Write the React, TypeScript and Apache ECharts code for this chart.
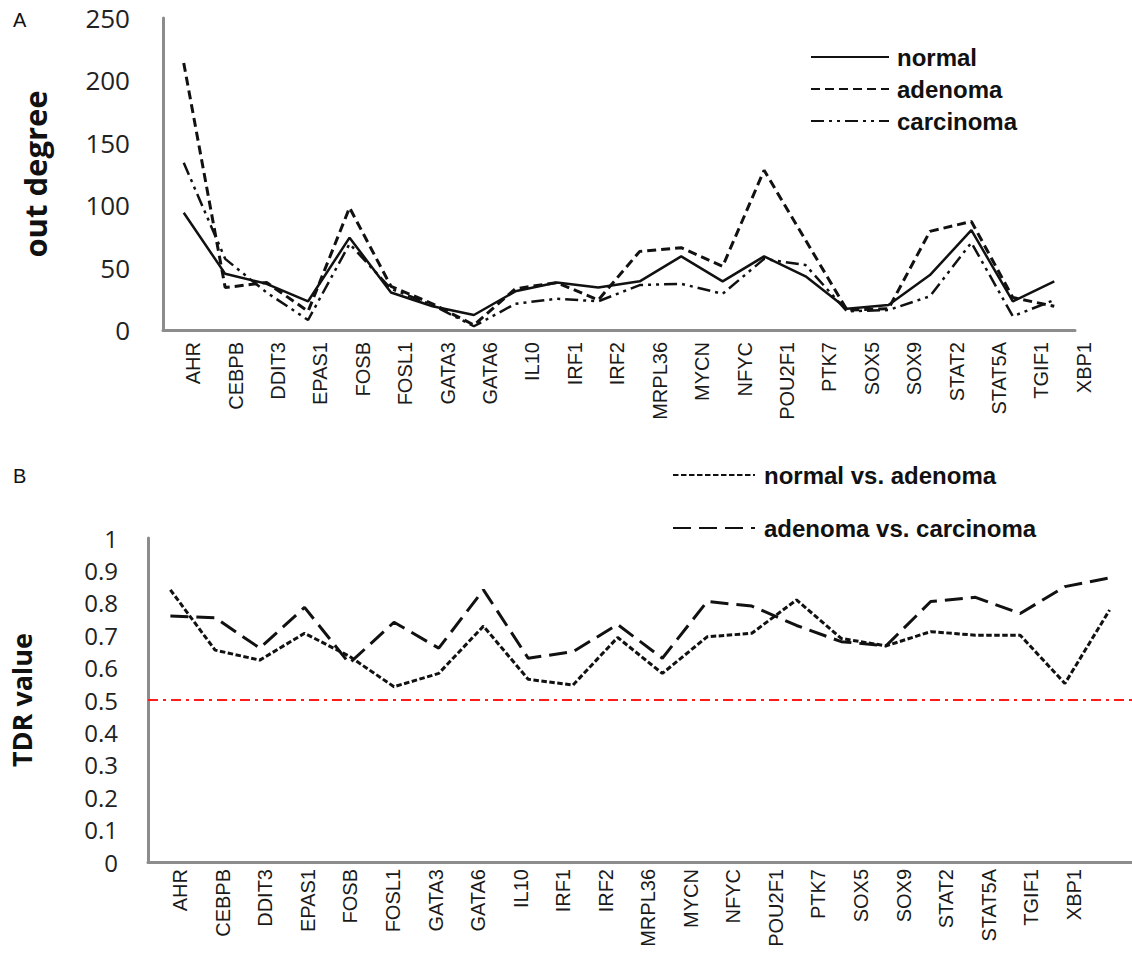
import React, { useEffect, useRef } from "react";
import * as echarts from "echarts";

const categories = [
  "AHR", "CEBPB", "DDIT3", "EPAS1", "FOSB", "FOSL1", "GATA3", "GATA6", "IL10", "IRF1", "IRF2",
  "MRPL36", "MYCN", "NFYC", "POU2F1", "PTK7", "SOX5", "SOX9", "STAT2", "STAT5A", "TGIF1", "XBP1",
];

const normal = [94, 45, 37, 23, 74, 30, 19, 12, 31, 38, 34, 39, 59, 39, 59, 43, 17, 20, 44, 80, 23, 39];
const adenoma = [214, 34, 38, 15, 98, 35, 21, 4, 33, 38, 24, 63, 66, 51, 128, 72, 16, 17, 79, 87, 26, 19];
const carcinoma = [134, 57, 30, 8, 69, 33, 20, 3, 21, 25, 23, 36, 37, 29, 57, 52, 15, 16, 27, 70, 11, 24];

const normalVsAdenoma = [
  0.84, 0.654, 0.623, 0.706, 0.635, 0.541, 0.582, 0.728, 0.564, 0.546, 0.693,
  0.582, 0.695, 0.706, 0.809, 0.69, 0.667, 0.711, 0.7, 0.7, 0.551, 0.778,
];
const adenomaVsCarcinoma = [
  0.759, 0.754, 0.66, 0.786, 0.613, 0.74, 0.66, 0.84, 0.629, 0.649, 0.733,
  0.629, 0.804, 0.79, 0.73, 0.68, 0.667, 0.804, 0.817, 0.767, 0.85, 0.877,
];

const tdrThreshold = 0.5;

const AXIS_GRAY = "#8c8c8c";
const INK = "#111";

export default function App() {
  const ref = useRef<HTMLDivElement>(null);

  useEffect(() => {
    document.body.style.margin = "0";
    const chart = echarts.init(ref.current!, null, { renderer: "svg" });

    const labelAxis = (gridIndex: number, margin: number) => ({
      gridIndex,
      type: "category",
      data: categories,
      axisLine: { show: false },
      axisTick: { show: false },
      axisLabel: {
        rotate: 90,
        interval: 0,
        fontSize: 20,
        fontFamily: "Liberation Sans",
        color: "#1a1a1a",
        margin,
      },
    });

    const dataXAxis = (gridIndex: number) => ({
      gridIndex,
      type: "category",
      data: categories,
      axisLine: { show: true, lineStyle: { color: AXIS_GRAY, width: 3 } },
      axisTick: { show: false },
      axisLabel: { show: false },
    });

    const legendText = {
      fontSize: 24,
      fontWeight: "bold",
      fontFamily: "Liberation Sans",
      color: INK,
    };

    const option: any = {
      animation: false,
      backgroundColor: "#fff",
      grid: [
        { left: 163, top: 18, width: 912, height: 312 },
        { left: 172, top: 18, width: 933, height: 312 },
        { left: 140, top: 538, width: 992, height: 324 },
        { left: 159, top: 538, width: 936, height: 324 },
      ],
      xAxis: [dataXAxis(0), labelAxis(1, 12), dataXAxis(2), labelAxis(3, 7)],
      yAxis: [
        {
          gridIndex: 0,
          type: "value",
          min: 0,
          max: 250,
          interval: 50,
          name: "out degree",
          nameLocation: "middle",
          nameGap: 113,
          nameTextStyle: { fontSize: 31, fontWeight: "bold", fontFamily: "Open Sans", color: INK },
          axisLine: { show: true, lineStyle: { color: AXIS_GRAY, width: 3 } },
          axisTick: { show: false },
          splitLine: { show: false },
          axisLabel: { fontSize: 26, fontFamily: "Open Sans", color: "#222", margin: 33 },
        },
        { gridIndex: 1, type: "value", show: false },
        {
          gridIndex: 2,
          type: "value",
          min: 0,
          max: 1,
          interval: 0.1,
          name: "TDR value",
          nameLocation: "middle",
          nameGap: 113,
          nameTextStyle: { fontSize: 27, fontWeight: "bold", fontFamily: "Open Sans", color: INK },
          axisLine: { show: true, lineStyle: { color: AXIS_GRAY, width: 3 } },
          axisTick: { show: false },
          splitLine: { show: false },
          axisLabel: { fontSize: 24, fontFamily: "Open Sans", color: "#222", margin: 30 },
        },
        { gridIndex: 3, type: "value", show: false },
      ],
      legend: [
        {
          data: ["normal", "adenoma", "carcinoma"],
          orient: "vertical",
          left: 805,
          top: 40,
          itemWidth: 78,
          itemHeight: 14,
          itemGap: 8,
          selectedMode: false,
          itemStyle: { opacity: 0 },
          textStyle: { ...legendText, padding: [0, 0, 0, 3] },
        },
        {
          data: ["normal vs. adenoma", "adenoma vs. carcinoma"],
          orient: "vertical",
          left: 667,
          top: 458,
          itemWidth: 82,
          itemHeight: 14,
          itemGap: 29,
          selectedMode: false,
          itemStyle: { opacity: 0 },
          textStyle: { ...legendText, padding: [0, 0, 0, 4] },
        },
      ],
      graphic: [
        {
          type: "text",
          left: 13,
          top: 10,
          style: { text: "A", fontSize: 20, fontFamily: "Liberation Sans", fill: INK },
        },
        {
          type: "text",
          left: 13,
          top: 466,
          style: { text: "B", fontSize: 20, fontFamily: "Liberation Sans", fill: INK },
        },
      ],
      series: [
        {
          name: "normal",
          type: "line",
          xAxisIndex: 0,
          yAxisIndex: 0,
          data: normal,
          symbol: "none",
          itemStyle: { color: INK },
          lineStyle: { color: INK, width: 2.5, type: "solid" },
        },
        {
          name: "adenoma",
          type: "line",
          xAxisIndex: 0,
          yAxisIndex: 0,
          data: adenoma,
          symbol: "none",
          itemStyle: { color: INK },
          lineStyle: { color: INK, width: 3, type: [9, 5] },
        },
        {
          name: "carcinoma",
          type: "line",
          xAxisIndex: 0,
          yAxisIndex: 0,
          data: carcinoma,
          symbol: "none",
          itemStyle: { color: INK },
          lineStyle: { color: INK, width: 2.5, type: [13, 5, 3, 5, 3, 5] },
        },
        {
          name: "normal vs. adenoma",
          type: "line",
          xAxisIndex: 2,
          yAxisIndex: 2,
          data: normalVsAdenoma,
          symbol: "none",
          itemStyle: { color: INK },
          lineStyle: { color: INK, width: 3, type: [5.5, 2.5] },
          markLine: {
            silent: true,
            symbol: "none",
            label: { show: false },
            lineStyle: { color: "#ff1a1a", width: 2, type: [10, 5, 3, 5] },
            data: [{ yAxis: tdrThreshold }],
          },
        },
        {
          name: "adenoma vs. carcinoma",
          type: "line",
          xAxisIndex: 2,
          yAxisIndex: 2,
          data: adenomaVsCarcinoma,
          symbol: "none",
          itemStyle: { color: INK },
          lineStyle: { color: INK, width: 3, type: [18, 8] },
        },
      ],
    };

    chart.setOption(option);
    return () => chart.dispose();
  }, []);

  return <div ref={ref} style={{ width: 1132, height: 959 }} />;
}
